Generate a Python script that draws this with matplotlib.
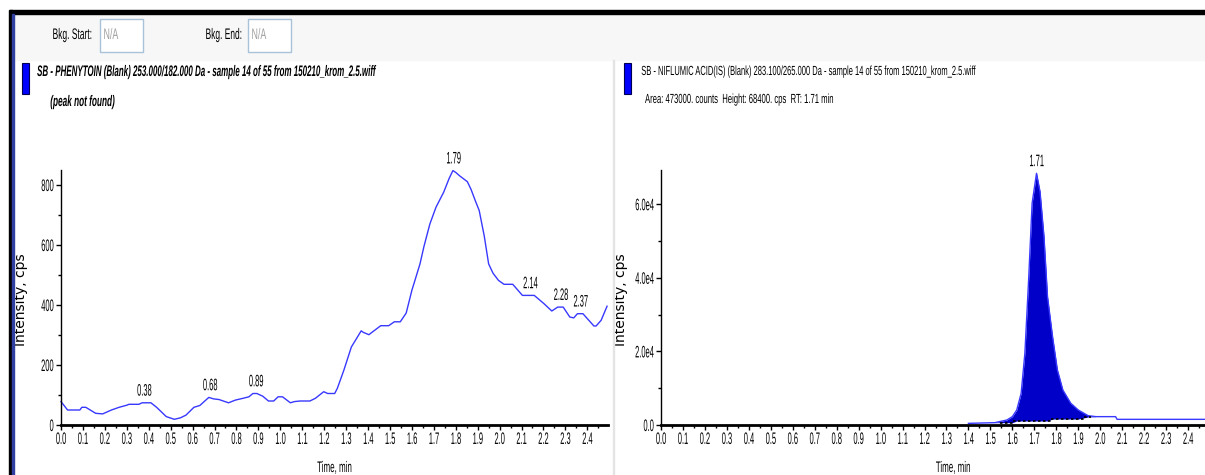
import numpy as np
import matplotlib.pyplot as plt
from matplotlib.patches import Rectangle
from matplotlib.patheffects import AbstractPathEffect
from matplotlib.transforms import Affine2D
from matplotlib.ticker import MultipleLocator, FuncFormatter

# phenytoin blank trace (min, cps)
time_a = [0.0, 0.03, 0.086, 0.095, 0.113, 0.158, 0.19, 0.23, 0.265, 0.30, 0.31, 0.355, 0.37, 0.41,
          0.436, 0.48, 0.517, 0.545, 0.57, 0.606, 0.633, 0.674, 0.696, 0.72, 0.764, 0.795, 0.83,
          0.857, 0.875, 0.893, 0.92, 0.946, 0.97, 0.99, 1.01, 1.046, 1.064, 1.09, 1.135, 1.16,
          1.198, 1.216, 1.248, 1.26, 1.29, 1.324, 1.369, 1.378, 1.404, 1.42, 1.458, 1.494, 1.52,
          1.547, 1.574, 1.60, 1.637, 1.655, 1.682, 1.71, 1.745, 1.77, 1.787, 1.80, 1.817, 1.853,
          1.87, 1.889, 1.907, 1.93, 1.95, 1.97, 1.995, 2.02, 2.06, 2.104, 2.158, 2.203, 2.238,
          2.265, 2.29, 2.32, 2.338, 2.355, 2.38, 2.43, 2.44, 2.463, 2.49]
counts_a = [78, 50, 50, 59, 59, 39, 37, 50, 59, 66, 69, 69, 74, 74,
            59, 28, 19, 24, 33, 59, 65, 92, 87, 85, 74, 83, 89,
            94, 105, 105, 96, 80, 80, 94, 94, 74, 78, 80, 80, 89,
            111, 105, 105, 122, 183, 260, 314, 309, 301, 310, 331, 331, 344,
            344, 373, 449, 537, 595, 670, 726, 776, 822, 848, 842, 831, 811,
            785, 748, 715, 630, 537, 506, 482, 469, 469, 432, 432, 404, 380,
            393, 393, 360, 357, 371, 371, 330, 330, 349, 396]
peaks_a = [0.38, 0.68, 0.89, 1.79, 2.14, 2.28, 2.37]
peak_heights_a = [74, 92, 105, 848, 432, 393, 371]

# niflumic acid (IS) trace
time_b = [1.40, 1.52, 1.575, 1.60, 1.62, 1.64, 1.657, 1.674, 1.69, 1.71, 1.726, 1.744, 1.76,
          1.783, 1.805, 1.83, 1.866, 1.90, 1.945, 1.98, 2.07, 2.077, 2.48]
counts_b = [450, 630, 1360, 2270, 4080, 8600, 19500, 39400, 60300, 68400, 63400, 51200, 34900,
            24000, 14950, 9500, 5900, 4080, 2540, 2270, 2270, 1540, 1540]
peak_b = 1.71
height_b = 68400
# integration baseline
base_t = [1.544, 1.603, 1.603, 1.771, 1.771, 1.922, 1.922, 1.96]
base_v = [625, 625, 1090, 1090, 1630, 1630, 2170, 2170]

W, H = 1205, 475
SANS = 'Liberation Sans'


class Squeeze(AbstractPathEffect):
    """Draw text narrower, like the condensed font of the instrument software."""

    def __init__(self, sx=0.5, width=None, anchor='left'):
        super().__init__()
        self.sx = sx
        self.width = width
        self.anchor = anchor

    def draw_path(self, renderer, gc, tpath, affine, rgbFace=None):
        ext = tpath.get_extents(affine)
        sx = self.sx if self.width is None else self.width / max(ext.width, 1)
        x0 = {'left': ext.x0, 'center': 0.5 * (ext.x0 + ext.x1), 'right': ext.x1}[self.anchor]
        tr = Affine2D().translate(-x0, 0).scale(sx, 1).translate(x0, 0)
        renderer.draw_path(gc, tpath, affine + tr, rgbFace)


fig = plt.figure(figsize=(W / 100, H / 100), dpi=100)


def fx(px):
    return px / W


def fy(py):
    return 1 - py / H


def label(px, py, s, width, size=11, **kw):
    kw.setdefault('ha', 'left')
    fig.text(fx(px), fy(py), s, family=SANS, fontsize=size, va='center',
             path_effects=[Squeeze(width=width, anchor=kw['ha'])], **kw)


def add_rect(x, y, w, h, **kw):
    fig.patches.append(Rectangle((fx(x), fy(y + h)), w / W, h / H,
                                 transform=fig.transFigure, **kw))


# window chrome
add_rect(13, 13, W - 13, 47, color='#f7f7f7', zorder=0)
add_rect(10, 10, W, 4, color='black', zorder=1)
add_rect(9, 10, 3, H, color='black', zorder=1)
add_rect(12, 14, 2, H, color='#3040a0', zorder=1)
add_rect(613, 60, 1, H, color='#e4e4e4', zorder=1)

for lbl, lx, lw, bx in [('Bkg. Start:', 52, 38, 100), ('Bkg. End:', 205, 35, 248)]:
    label(lx, 35, lbl, lw)
    add_rect(bx, 19, 43, 33, facecolor='white', edgecolor='#a9c2da', lw=1, zorder=2)
    label(bx + 3, 35, 'N/A', 14, color='#a0a0a0')

# trace headers
for rx in [22, 624]:
    add_rect(rx, 63, 7, 31, facecolor='#0000ff', edgecolor='#000050', lw=0.8, zorder=2)
label(37, 72, 'SB - PHENYTOIN (Blank) 253.000/182.000 Da - sample 14 of 55 from 150210_krom_2.5.wiff',
      339, size=11, weight='bold', style='italic')
label(50, 102, '(peak not found)', 64, size=11, weight='bold', style='italic')
label(641, 72, 'SB - NIFLUMIC ACID(IS) (Blank) 283.100/265.000 Da - sample 14 of 55 from 150210_krom_2.5.wiff',
      334, size=9.5)
label(645, 100, 'Area: 473000. counts  Height: 68400. cps  RT: 1.71 min', 188, size=9.5)


def style_axes(ax, ymajor, yminor, yfmt, xlabel_x):
    for s in ['top', 'right']:
        ax.spines[s].set_visible(False)
    ax.spines['bottom'].set_linewidth(2)
    ax.spines['left'].set_linewidth(1)
    ax.set_facecolor('none')
    ax.xaxis.set_major_locator(MultipleLocator(0.1))
    ax.xaxis.set_minor_locator(MultipleLocator(0.05))
    ax.xaxis.set_major_formatter(FuncFormatter(lambda v, p: f'{v:.1f}'))
    ax.yaxis.set_major_locator(MultipleLocator(ymajor))
    ax.yaxis.set_minor_locator(MultipleLocator(yminor))
    ax.yaxis.set_major_formatter(FuncFormatter(yfmt))
    ax.tick_params(which='major', length=3.5, width=1, labelsize=12, pad=1.5,
                   labelfontfamily=SANS)
    ax.tick_params(which='minor', length=2, width=1)
    for t in ax.get_xticklabels():
        t.set_path_effects([Squeeze(0.45, anchor='center')])
    for t in ax.get_yticklabels():
        t.set_path_effects([Squeeze(0.45, anchor='right')])
    ax.set_xlabel('Time, min', family=SANS, fontsize=11, va='center',
                  path_effects=[Squeeze(width=34, anchor='center')])
    ax.xaxis.set_label_coords(xlabel_x, -43 / 255)
    ax.set_ylabel('Intensity, cps', family='DejaVu Sans', fontsize=10, va='center')
    ax.yaxis.set_label_coords(-40 / 547, 0.49)


def peak_label(ax, t, c):
    ax.annotate(f'{t:.2f}', (t, c), xytext=(0, 3), textcoords='offset points', ha='center',
                va='bottom', family=SANS, fontsize=12,
                path_effects=[Squeeze(0.45, anchor='center')])


# left: phenytoin
ax1 = fig.add_axes([fx(61), fy(425), 547 / W, 255 / H])
ax1.plot(time_a, counts_a, color='#3838ff', lw=1, clip_on=False)
ax1.set_xlim(0, 547 / 219.3)
ax1.set_ylim(0, 850)
style_axes(ax1, 200, 100, lambda v, p: f'{v:.0f}', 0.5)
for t, c in zip(peaks_a, peak_heights_a):
    peak_label(ax1, t, c)

# right: niflumic acid
ax2 = fig.add_axes([fx(661), fy(425), 544 / W, 255 / H])
tb = np.array(time_b)
cb = np.array(counts_b)
base = np.interp(tb, base_t, base_v)
ax2.fill_between(tb, cb, base, where=(tb >= 1.575) & (tb <= 1.96),
                 color='#0000c8', lw=0, interpolate=True)
ax2.plot(time_b, counts_b, color='#3838ff', lw=1, clip_on=False)
ax2.plot(base_t, base_v, color='black', lw=1.2, ls=(0, (1.5, 1.5)))
ax2.set_xlim(0, 544 / 219.6)
ax2.set_ylim(0, 69300)
style_axes(ax2, 20000, 10000, lambda v, p: '0.0' if v == 0 else f'{v / 1e4:.1f}e4', 0.537)
peak_label(ax2, peak_b, height_b)

fig.savefig('out.png', dpi=100)
